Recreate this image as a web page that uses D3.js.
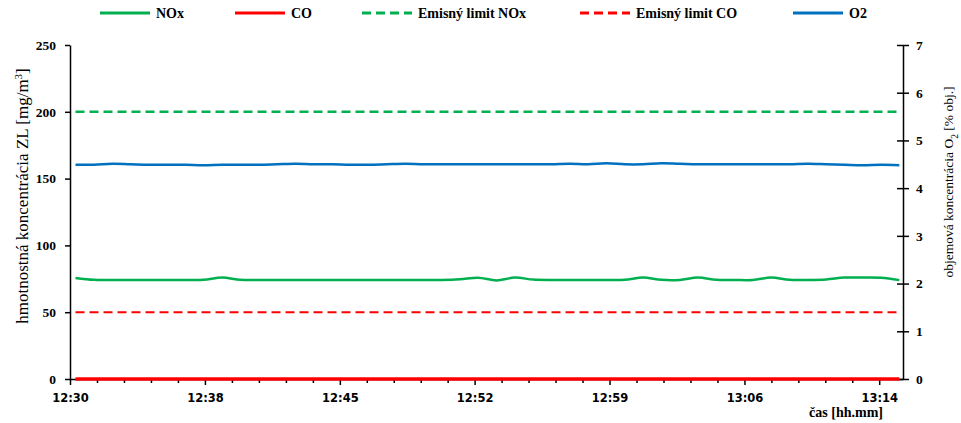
<!DOCTYPE html>
<html>
<head>
<meta charset="utf-8">
<script src="https://cdn.jsdelivr.net/npm/d3@7"></script>
<style>
  body { margin: 0; background: #fff; }
  svg { display: block; }
  .serif { font-family: "Liberation Serif", "Times New Roman", serif; }
</style>
</head>
<body>
<div id="chart"></div>
<script>
// sample times, minutes after 12:30
const sampleMin = [0.3, 1.3, 2.3, 3.3, 4.3, 5.3, 6.3, 7.3, 8.3, 9.3,
  10.3, 11.3, 12.3, 13.3, 14.3, 15.3, 16.3, 17.3, 18.3, 19.3,
  20.3, 21.3, 22.3, 23.3, 24.3, 25.3, 26.3, 27.3, 28.3, 29.3,
  30.3, 31.3, 32.3, 33.3, 34.3, 35.3, 36.3, 37.3, 38.3, 39.3,
  40.3, 41.3, 42.3, 43.3, 44.3, 45.3]

// NOx [mg/m3]
const nox = [75.6, 74.2, 74.1, 74.1, 74.1, 74.1, 74.1, 74.2, 75.9, 74.2,
  74.1, 74.1, 74.1, 74.1, 74.1, 74.1, 74.1, 74.1, 74.1, 74.1,
  74.1, 74.6, 75.8, 73.8, 75.9, 74.4, 74.1, 74.1, 74.1, 74.1,
  74.2, 75.9, 74.2, 74.1, 75.9, 74.2, 74.1, 74.1, 75.9, 74.2,
  74.1, 74.5, 75.9, 76.0, 75.8, 74.0]

// CO [mg/m3]
const co = [0, 0, 0, 0, 0, 0, 0, 0, 0, 0,
  0, 0, 0, 0, 0, 0, 0, 0, 0, 0,
  0, 0, 0, 0, 0, 0, 0, 0, 0, 0,
  0, 0, 0, 0, 0, 0, 0, 0, 0, 0,
  0, 0, 0, 0, 0, 0]

// O2 [% obj.]
const o2 = [4.49, 4.49, 4.51, 4.50, 4.49, 4.49, 4.49, 4.48, 4.49, 4.49,
  4.49, 4.50, 4.51, 4.50, 4.50, 4.49, 4.49, 4.50, 4.51, 4.50,
  4.50, 4.50, 4.50, 4.50, 4.50, 4.50, 4.50, 4.51, 4.50, 4.52,
  4.50, 4.50, 4.52, 4.51, 4.50, 4.50, 4.50, 4.50, 4.50, 4.50,
  4.51, 4.50, 4.49, 4.48, 4.49, 4.48]

const noxLimit = 200
const coLimit = 50

const tickMin = [0, 7.37, 14.74, 22.1, 29.47, 36.84, 44.2]
const tickLabels = ["12:30", "12:38", "12:45", "12:52", "12:59", "13:06", "13:14"]
const leftTicks = [0, 50, 100, 150, 200, 250]
const rightTicks = [0, 1, 2, 3, 4, 5, 6, 7]

const W = 961, H = 423
const plot = {left: 70, right: 903, top: 45, bottom: 379}

const svg = d3.select("#chart").append("svg")
  .attr("width", W).attr("height", H)

svg.append("rect").attr("width", W).attr("height", H).attr("fill", "#fff")

const x = d3.scaleLinear().domain([0, 45.5]).range([plot.left, plot.right])
const yL = d3.scaleLinear().domain([0, 250]).range([plot.bottom, plot.top])
const yR = d3.scaleLinear().domain([0, 7]).range([plot.bottom, plot.top])

const green = "#00b050", red = "#ff0000", blue = "#0070c0"

// axes
const minorTicks = []
for (let i = 0; i < tickMin.length - 1; i++) {
  const step = (tickMin[i + 1] - tickMin[i]) / 5
  for (let k = 1; k < 5; k++) minorTicks.push(tickMin[i] + k * step)
}

svg.append("g")
  .attr("transform", `translate(0,${plot.bottom})`)
  .call(d3.axisBottom(x).tickValues(minorTicks).tickSize(4).tickSizeOuter(0).tickFormat(""))
  .call(g => g.select(".domain").remove())
  .selectAll("line").attr("stroke", "#000").attr("stroke-width", 1.5)

const xAxis = svg.append("g")
  .attr("transform", `translate(0,${plot.bottom})`)
  .call(d3.axisBottom(x).tickValues(tickMin).tickSize(6).tickSizeOuter(0).tickPadding(9)
    .tickFormat((d, i) => tickLabels[i]))
xAxis.select(".domain").attr("stroke", "#000").attr("stroke-width", 1.5)
xAxis.selectAll("line").attr("stroke-width", 1.5)
xAxis.selectAll("text")
  .style("font-family", "'DejaVu Sans', sans-serif")
  .style("font-weight", "bold")
  .style("font-size", "11.5px")
  .attr("fill", "#000")

const leftAxis = svg.append("g")
  .attr("transform", `translate(${plot.left},0)`)
  .call(d3.axisLeft(yL).tickValues(leftTicks).tickSize(5).tickSizeOuter(0).tickPadding(9))
leftAxis.select(".domain").attr("stroke-width", 1.5)
leftAxis.selectAll("line").attr("stroke-width", 1.5)
leftAxis.selectAll("text")
  .attr("class", "serif")
  .style("font-weight", "bold")
  .style("font-size", "13.5px")
  .attr("fill", "#000")

const rightAxis = svg.append("g")
  .attr("transform", `translate(${plot.right},0)`)
  .call(d3.axisRight(yR).tickValues(rightTicks).tickSize(6).tickSizeOuter(0).tickPadding(7)
    .tickFormat(d3.format("d")))
rightAxis.select(".domain").attr("stroke-width", 1.5)
rightAxis.selectAll(".tick line").attr("x1", -6).attr("stroke-width", 1.5)
rightAxis.selectAll("text")
  .attr("class", "serif")
  .style("font-weight", "bold")
  .style("font-size", "13.5px")
  .attr("fill", "#000")

// limit lines
const x0 = x(sampleMin[0]), x1 = x(sampleMin[sampleMin.length - 1])
svg.append("line")
  .attr("x1", x0).attr("x2", x1).attr("y1", yL(noxLimit)).attr("y2", yL(noxLimit))
  .attr("stroke", green).attr("stroke-width", 2.5).attr("stroke-dasharray", "9,5")
svg.append("line")
  .attr("x1", x0).attr("x2", x1).attr("y1", yL(coLimit)).attr("y2", yL(coLimit))
  .attr("stroke", red).attr("stroke-width", 2).attr("stroke-dasharray", "9,5")

// series
const lineL = d3.line().x((d, i) => x(sampleMin[i])).y(d => yL(d)).curve(d3.curveCatmullRom)
const lineR = d3.line().x((d, i) => x(sampleMin[i])).y(d => yR(d)).curve(d3.curveCatmullRom)

svg.append("path").datum(o2).attr("d", lineR)
  .attr("fill", "none").attr("stroke", blue).attr("stroke-width", 2.5)
svg.append("path").datum(nox).attr("d", lineL)
  .attr("fill", "none").attr("stroke", green).attr("stroke-width", 2.5)
svg.append("path").datum(co).attr("d", lineL)
  .attr("fill", "none").attr("stroke", red).attr("stroke-width", 3.5)

// axis titles
const lt = svg.append("text")
  .attr("class", "serif")
  .attr("transform", "translate(22,196) rotate(-90)")
  .attr("text-anchor", "middle").attr("dy", "0.35em")
  .style("font-size", "17px")
  .text("hmotnostná koncentrácia ZL [mg/m")
lt.append("tspan").attr("baseline-shift", "super").style("font-size", "11px").text("3")
lt.append("tspan").text("]")

const rt = svg.append("text")
  .attr("class", "serif")
  .attr("transform", "translate(948,182) rotate(-90)")
  .attr("text-anchor", "middle").attr("dy", "0.35em")
  .style("font-size", "13.5px")
  .text("objemová koncentrácia O")
rt.append("tspan").attr("baseline-shift", "sub").style("font-size", "9.5px").text("2")
rt.append("tspan").text(" [% obj.]")

svg.append("text")
  .attr("class", "serif")
  .attr("x", 883).attr("y", 417)
  .attr("text-anchor", "end")
  .style("font-size", "14px").style("font-weight", "bold")
  .text("čas [hh.mm]")

// legend
const legendItems = [
  {name: "NOx", color: green, dash: null, x: 100},
  {name: "CO", color: red, dash: null, x: 235},
  {name: "Emisný limit NOx", color: green, dash: "9,5", x: 362},
  {name: "Emisný limit CO", color: red, dash: "9,5", x: 580},
  {name: "O2", color: blue, dash: null, x: 793}
]

const lg = svg.selectAll(".legend")
  .data(legendItems)
  .join("g")
  .attr("class", "legend")
  .attr("transform", d => `translate(${d.x},13)`)

lg.append("line")
  .attr("x1", 0).attr("x2", 50)
  .attr("stroke", d => d.color).attr("stroke-width", 3)
  .attr("stroke-dasharray", d => d.dash)

lg.append("text")
  .attr("class", "serif")
  .attr("x", 56)
  .attr("y", 5)
  .style("font-size", "14px").style("font-weight", "bold")
  .text(d => d.name)
</script>
</body>
</html>
